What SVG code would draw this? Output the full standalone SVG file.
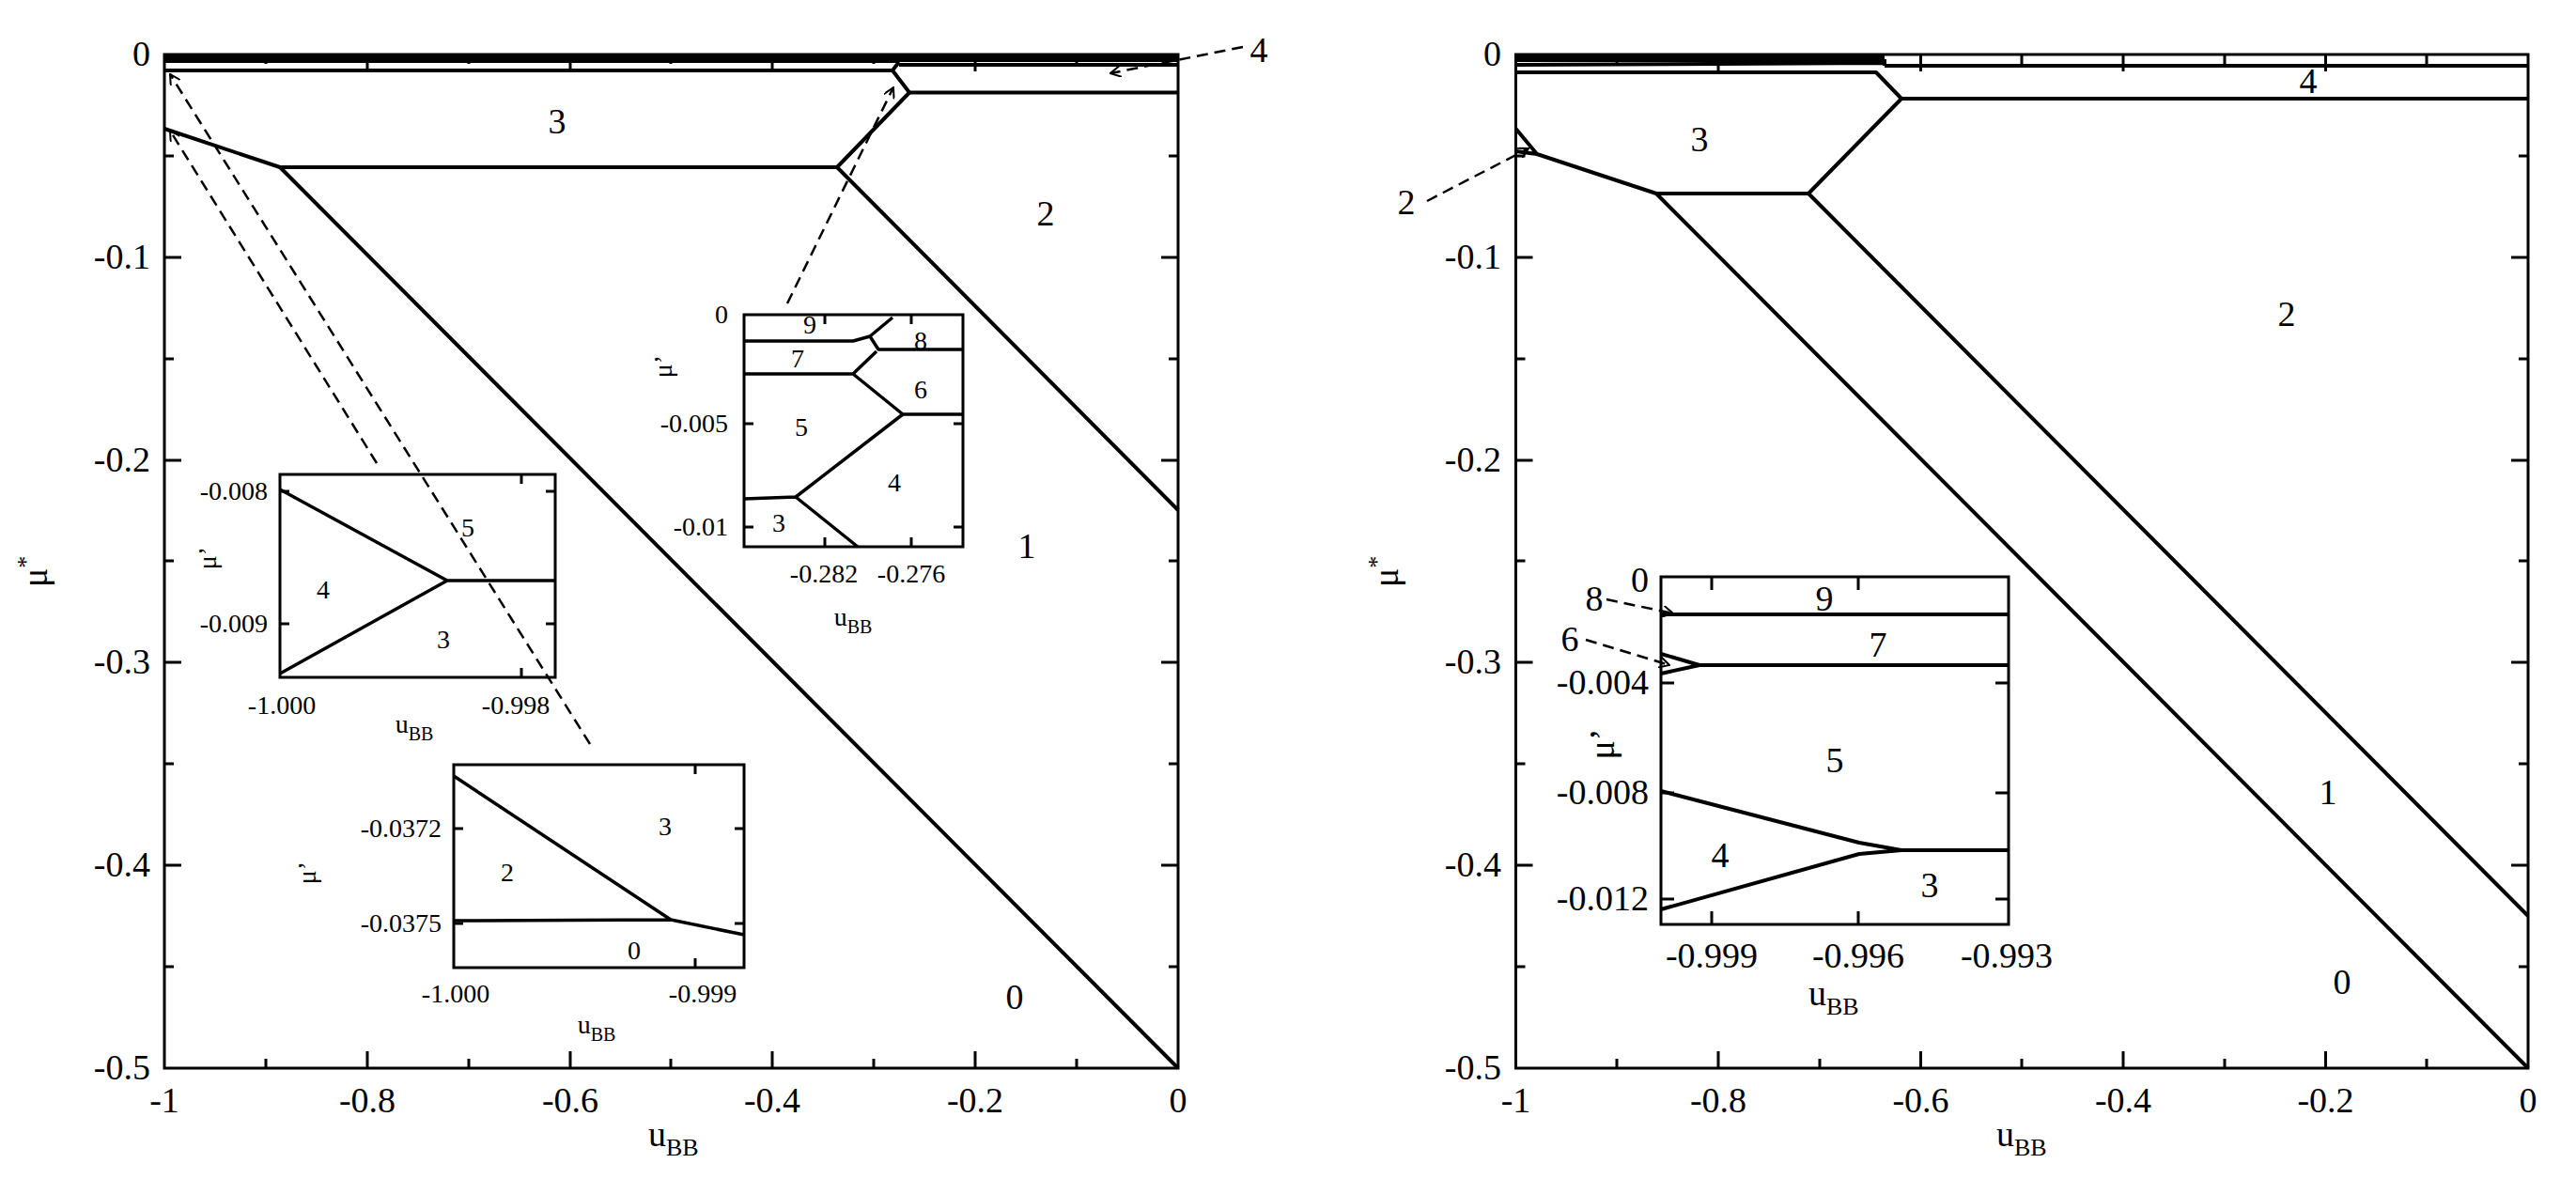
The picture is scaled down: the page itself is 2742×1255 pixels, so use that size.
<svg xmlns="http://www.w3.org/2000/svg" width="2742" height="1255" viewBox="0 0 2742 1255" font-family="'Liberation Serif', 'DejaVu Serif', serif">
<style>
text{font-family:"Liberation Serif","DejaVu Serif",serif;fill:#000}
.t{font-size:38px}.tr{font-size:38px;text-anchor:end}.tm{font-size:38px;text-anchor:middle}
.s{font-size:28px;text-anchor:middle}.sr{font-size:28px;text-anchor:end}
.ax{fill:none;stroke:#000;stroke-width:3}
.ln{fill:none;stroke:#000;stroke-width:4;stroke-linejoin:round}
.tk{fill:none;stroke:#000;stroke-width:3}
.da{fill:none;stroke:#000;stroke-width:2.5;stroke-dasharray:12 7;marker-end:url(#ah)}
</style>
<defs><marker id="ah" viewBox="0 0 12 12" refX="11" refY="6" markerWidth="12" markerHeight="12" markerUnits="userSpaceOnUse" orient="auto"><path d="M0,0 L11,6 L0,12" fill="none" stroke="#000" stroke-width="2"/></marker></defs>
<rect width="2742" height="1255" fill="#fff"/>
<g id="left-plot">
<rect class="ax" x="175" y="58" width="1079" height="1079"/>
<path class="tk" d="M391,1137v-18M607,1137v-18M822,1137v-18M1038,1137v-18M391,58v18M607,58v18M822,58v18M1038,58v18M283,1137v-10M499,1137v-10M714,1137v-10M930,1137v-10M1146,1137v-10M283,58v10M499,58v10M714,58v10M930,58v10M1146,58v10M175,274h18M175,490h18M175,705h18M175,921h18M1254,274h-18M1254,490h-18M1254,705h-18M1254,921h-18M175,166h10M175,382h10M175,597h10M175,813h10M175,1029h10M1254,166h-10M1254,382h-10M1254,597h-10M1254,813h-10M1254,1029h-10"/>
<g class="tm"><text x="175" y="1184">-1</text><text x="391" y="1184">-0.8</text><text x="607" y="1184">-0.6</text><text x="822" y="1184">-0.4</text><text x="1038" y="1184">-0.2</text><text x="1254" y="1184">0</text></g>
<g class="tr"><text x="160" y="70">0</text><text x="160" y="286">-0.1</text><text x="160" y="502">-0.2</text><text x="160" y="717">-0.3</text><text x="160" y="933">-0.4</text><text x="160" y="1149">-0.5</text></g>
<text class="t" x="690" y="1220">u<tspan font-size="26" dy="10">BB</tspan></text>
<text class="t" transform="translate(50,625) rotate(-90)">μ<tspan font-size="26" dy="-14">*</tspan></text>
<path class="ln" d="M175,61H957M175,65H957M957,61H1254M957,64H1254M957,69H1254"/>
<path class="ln" d="M175,75H950L968,98.5H1254M950,75L957,66"/>
<path class="ln" d="M175,137L298,178H891L968,98.5M298,178L1254,1137M891,178L1254,543"/>
<text class="tm" x="593" y="142">3</text><text class="tm" x="1113" y="240">2</text><text class="tm" x="1093" y="594">1</text><text class="tm" x="1080" y="1074">0</text><text class="tm" x="1340" y="66">4</text>
</g>
<g id="inset-a">
<rect class="ax" x="792" y="335" width="233" height="247"/>
<path class="tk" d="M878,582v-10M970,582v-10M878,335v10M970,335v10M792,451h10M792,561h10M1025,451h-10M1025,561h-10"/>
<path class="ln" style="stroke-width:3.5" d="M792,363H908L926,358L935,372H1025M926,358L950,338M792,398H908L961,441H1025M908,398L933,374M792,531L847,529L961,441M847,529L913,582"/>
<g class="sr"><text x="775" y="344">0</text><text x="775" y="460">-0.005</text><text x="775" y="570">-0.01</text></g>
<g class="s"><text x="877" y="620">-0.282</text><text x="970" y="620">-0.276</text>
<text x="862" y="355">9</text><text x="980" y="372">8</text><text x="849" y="391">7</text><text x="980" y="424">6</text><text x="853" y="464">5</text><text x="952" y="523">4</text><text x="829" y="566">3</text></g>
<text class="s" x="908" y="666">u<tspan font-size="20" dy="8">BB</tspan></text>
<text class="s" transform="translate(715,390) rotate(-90)">μ’</text>
</g>
<g id="inset-b">
<rect class="ax" x="298" y="505" width="293" height="216"/>
<path class="tk" d="M555,721v-10M555,505v10M298,523h10M298,664h10M591,523h-10M591,664h-10"/>
<path class="ln" style="stroke-width:3.5" d="M298,521L476,618H591M298,717L476,618"/>
<g class="sr"><text x="285" y="532">-0.008</text><text x="285" y="673">-0.009</text></g>
<g class="s"><text x="300" y="760">-1.000</text><text x="549" y="760">-0.998</text>
<text x="344" y="637">4</text><text x="498" y="571">5</text><text x="472" y="690">3</text></g>
<text class="s" x="441" y="780">u<tspan font-size="20" dy="8">BB</tspan></text>
<text class="s" transform="translate(230,594) rotate(-90)">μ’</text>
</g>
<g id="inset-c">
<rect class="ax" x="483" y="814" width="309" height="216"/>
<path class="tk" d="M740,1030v-10M740,814v10M483,882h10M483,983h10M792,882h-10M792,983h-10"/>
<path class="ln" style="stroke-width:3.5" d="M483,826L714,979L792,995M483,980L714,979"/>
<g class="sr"><text x="470" y="891">-0.0372</text><text x="470" y="992">-0.0375</text></g>
<g class="s"><text x="485" y="1067">-1.000</text><text x="748" y="1067">-0.999</text>
<text x="540" y="938">2</text><text x="708" y="889">3</text><text x="675" y="1021">0</text></g>
<text class="s" x="635" y="1100">u<tspan font-size="20" dy="8">BB</tspan></text>
<text class="s" transform="translate(336,929) rotate(-90)">μ’</text>
</g>
<g id="right-plot">
<rect class="ax" x="1613.5" y="58" width="1077.5" height="1079"/>
<path class="tk" d="M1829,1137v-18M2044.5,1137v-18M2260,1137v-18M2475.5,1137v-18M1829,58v18M2044.5,58v18M2260,58v18M2475.5,58v18M1721,1137v-10M1937,1137v-10M2152,1137v-10M2368,1137v-10M2583,1137v-10M1721,58v10M1937,58v10M2152,58v10M2368,58v10M2583,58v10M1613.5,274h18M1613.5,490h18M1613.5,705h18M1613.5,921h18M2691,274h-18M2691,490h-18M2691,705h-18M2691,921h-18M1613.5,166h10M1613.5,382h10M1613.5,597h10M1613.5,813h10M1613.5,1029h10M2691,166h-10M2691,382h-10M2691,597h-10M2691,813h-10M2691,1029h-10"/>
<g class="tm"><text x="1613.5" y="1184">-1</text><text x="1829" y="1184">-0.8</text><text x="2044.5" y="1184">-0.6</text><text x="2260" y="1184">-0.4</text><text x="2475.5" y="1184">-0.2</text><text x="2691" y="1184">0</text></g>
<g class="tr"><text x="1598" y="70">0</text><text x="1598" y="286">-0.1</text><text x="1598" y="502">-0.2</text><text x="1598" y="717">-0.3</text><text x="1598" y="933">-0.4</text><text x="1598" y="1149">-0.5</text></g>
<text class="t" x="2125" y="1220">u<tspan font-size="26" dy="10">BB</tspan></text>
<text class="t" transform="translate(1488,625) rotate(-90)">μ<tspan font-size="26" dy="-14">*</tspan></text>
<path class="ln" d="M1613.5,60H2006M1613.5,64H2006M2006,63V70M2006,70H2691M1613.5,69L2006,67"/>
<path class="ln" d="M1613.5,77H1997L2024,105H2691"/>
<path class="ln" d="M1613.5,137L1636,164L1763,206H1925L2024,105M1613.5,161L1636,164M1763,206L2691,1137M1925,206L2691,975"/>
<text class="tm" x="1809" y="161">3</text><text class="tm" x="2457" y="99">4</text><text class="tm" x="2434" y="347">2</text><text class="tm" x="2478" y="856">1</text><text class="tm" x="2493" y="1058">0</text><text class="tm" x="1497" y="228">2</text>
</g>
<g id="inset-d">
<rect class="ax" x="1768" y="614" width="370" height="370"/>
<path class="tk" d="M1822,984v-14M1978,984v-14M1822,614v14M1978,614v14M1768,727h14M1768,844h14M1768,957h14M2138,727h-14M2138,844h-14M2138,957h-14"/>
<path class="ln" d="M1768,654H2138M1768,696L1809,708L1768,717M1809,708H2138M1768,842L1979,897L2024,905H2138M1768,968L1979,909L2024,905"/>
<g class="tr"><text x="1755" y="630">0</text><text x="1755" y="739">-0.004</text><text x="1755" y="856">-0.008</text><text x="1755" y="969">-0.012</text></g>
<g class="tm"><text x="1822" y="1030">-0.999</text><text x="1978" y="1030">-0.996</text><text x="2136" y="1030">-0.993</text>
<text x="1942" y="650">9</text><text x="1999" y="699">7</text><text x="1953" y="822">5</text><text x="1831" y="923">4</text><text x="2054" y="955">3</text><text x="1697" y="650">8</text><text x="1671" y="693">6</text></g>
<text class="t" x="1925" y="1070">u<tspan font-size="26" dy="10">BB</tspan></text>
<text class="t" transform="translate(1718,792) rotate(-90)" text-anchor="middle">μ’</text>
</g>
<g id="connectors">
<path class="da" d="M1323,50L1182,78"/>
<path class="da" d="M838,323L951,93"/>
<path class="da" d="M628,792L181,79"/>
<path class="da" d="M401,493L181,139"/>
<path class="da" d="M1519,214L1627,158"/>
<path class="da" d="M1710,638L1781,653"/>
<path class="da" d="M1688,681L1777,708"/>
</g>
</svg>
